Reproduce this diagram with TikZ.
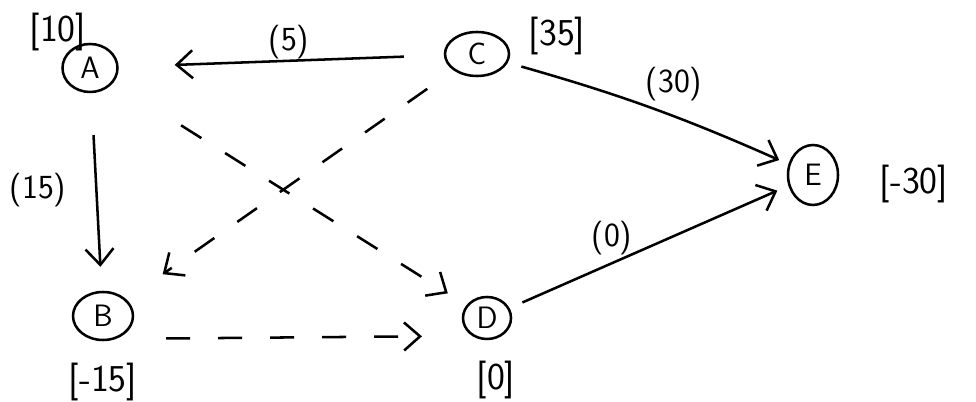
\documentclass[tikz,border=0pt]{standalone}
\usepackage{tikz}
\usetikzlibrary{positioning, shapes.geometric, arrows.meta}

\begin{document}
\begin{tikzpicture}[
    vert/.style={draw, ellipse, line width=1.8pt, inner sep=0pt, font=\sffamily\fontsize{22}{24}\selectfont},
    val/.style={font=\sffamily\fontsize{27}{30}\selectfont},
    wt/.style={font=\sffamily\fontsize{24}{28}\selectfont},
    link/.style={line width=1.8pt, -{Straight Barb[length=4mm, width=7mm, line width=1.8pt]}},
    guess/.style={link, dash pattern=on 6mm off 7mm}
  ]
    \useasboundingbox (0,0) rectangle (24.4,10.05);

    % Vertices
    \node[vert, minimum width=1.375cm, minimum height=1.2cm] (A) at (2.25,8.35) {A};
    \node[vert, minimum width=1.6cm, minimum height=1.1cm] (C) at (11.925,8.7) {C};
    \node[vert, minimum width=1.25cm, minimum height=1.5cm] (E) at (20.325,5.675) {E};
    \node[vert, minimum width=1.5cm, minimum height=1.2cm] (B) at (2.575,2.15) {B};
    \node[vert, minimum width=1.2cm, minimum height=1.05cm] (D) at (12.175,2.1) {D};

    % Values
    \node[val] (vA) at (1.45,9.25) {[10]};
    \node[val] (vC) at (13.925,9.15) {[35]};
    \node[val] (vE) at (22.85,5.45) {[-30]};
    \node[val] (vB) at (2.575,0.5) {[-15]};
    \node[val] (vD) at (12.4,0.55) {[0]};

    % Solid edges
    \draw[link, shorten <=1cm, shorten >=1.4cm] (C) -- (A);
    \draw[link, shorten <=1.05cm, shorten >=0.6cm] (A) -- (B);
    \draw[link, shorten <=0.35cm, shorten >=0.25cm] (C) to[bend left=4] (E);
    \draw[link, shorten <=0.35cm, shorten >=0.3cm] (D) -- (E);

    % Dashed edges
    \draw[guess, shorten <=0.8cm, shorten >=1.1cm] (C) -- (B);
    \draw[guess, shorten <=2cm, shorten >=0.55cm] (A) -- (D);
    \draw[guess, shorten <=1.25cm, shorten >=1.25cm] (B.-60) -- (D.230);

    % Weights
    \node[wt] (w5) at (7.225,9.0) {(5)};
    \node[wt] (w15) at (0.95,5.3) {(15)};
    \node[wt] (w30) at (16.85,7.95) {(30)};
    \node[wt] (w0) at (15.3,4.1) {(0)};
\end{tikzpicture}
\end{document}
